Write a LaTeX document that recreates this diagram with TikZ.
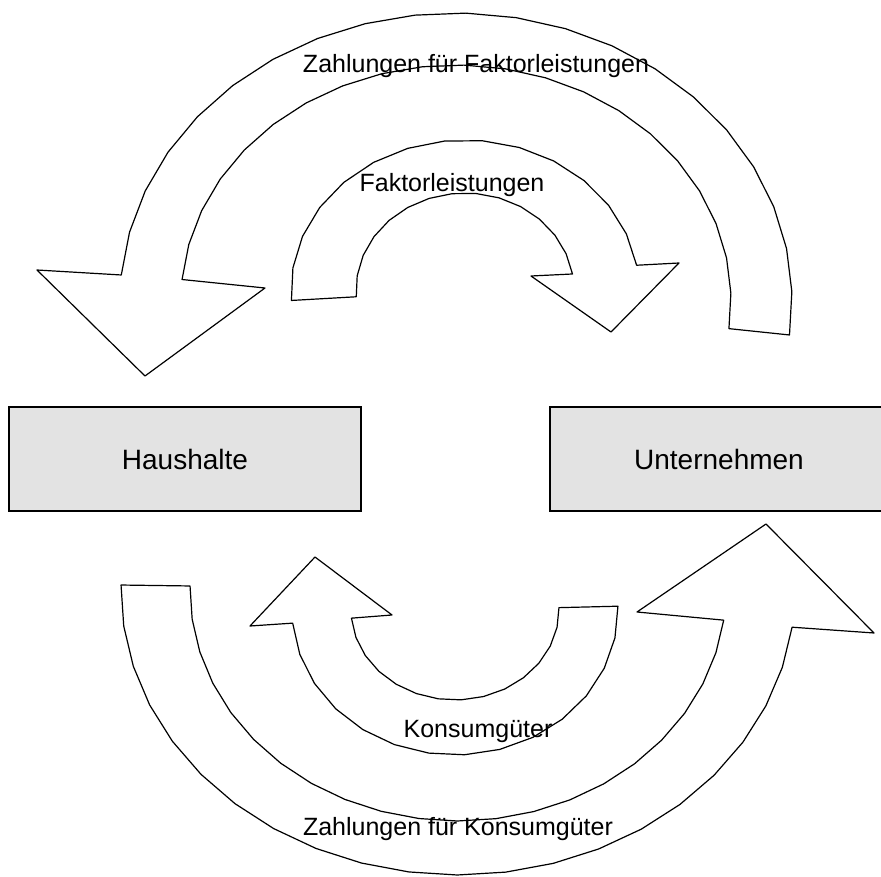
\documentclass[tikz,border=0pt]{standalone}
\usepackage{fontspec}
\setmainfont{Liberation Sans}
\definecolor{boxgray}{RGB}{227,227,227}
\begin{document}
\begin{tikzpicture}[x=1pt,y=-1pt,
  flow/.style={draw=black,line width=1.2pt,fill=white,line join=round},
  lbl/.style={font=\fontsize{25}{30}\selectfont,anchor=base,inner sep=0pt},
  box/.style={draw=black,line width=2.7pt,fill=boxgray,minimum width=352pt,minimum height=104pt,font=\fontsize{28}{34}\selectfont,inner sep=0pt}]
\useasboundingbox (0,0) rectangle (881,877);
\clip (0,0) rectangle (881,877);
% Zahlungen fuer Faktorleistungen (big top arrow, to the left)
\draw[flow] plot[domain=-7:175,samples=22] ({456+336*cos(\x)},{300-287*sin(\x)})
  -- (37,270) -- (145,376) -- (265,288)
  -- plot[domain=175:-7,samples=22] ({456+275*cos(\x)},{300-235*sin(\x)}) -- cycle;
% Faktorleistungen (small top arrow, to the right)
\draw[flow] plot[domain=184:9.5,samples=15] ({465+174*cos(\x)},{290-150*sin(\x)})
  -- (679,263) -- (611,332) -- (531,276)
  -- plot[domain=9.5:184,samples=15] ({465+109*cos(\x)},{290-97*sin(\x)}) -- cycle;
% Zahlungen fuer Konsumgueter (big bottom arrow, to the right)
\draw[flow] plot[domain=181:7.5,samples=22] ({458+337*cos(\x)},{590+285*sin(\x)})
  -- (874,633) -- (766,524) -- (637,612)
  -- plot[domain=7.5:181,samples=22] ({458+268*cos(\x)},{590+231*sin(\x)}) -- cycle;
% Konsumgueter (small bottom arrow, to the left)
\draw[flow] plot[domain=-1.5:174.8,samples=15] ({455+163*cos(\x)},{610+145*sin(\x)})
  -- (250,626) -- (315,557) -- (392,615)
  -- plot[domain=174.8:-1.5,samples=15] ({455+104*cos(\x)},{610+90*sin(\x)}) -- cycle;
% boxes
\node[box] (hh) at (185,459) {Haushalte};
\node[box,minimum width=338pt] (un) at (719,459) {Unternehmen};
% labels
\node[lbl] (zf) at (476,73) {Zahlungen für Faktorleistungen};
\node[lbl] (fl) at (452,192) {Faktorleistungen};
\node[lbl] (kg) at (478,737) {Konsumgüter};
\node[lbl] (zk) at (458,835) {Zahlungen für Konsumgüter};
\end{tikzpicture}
\end{document}
